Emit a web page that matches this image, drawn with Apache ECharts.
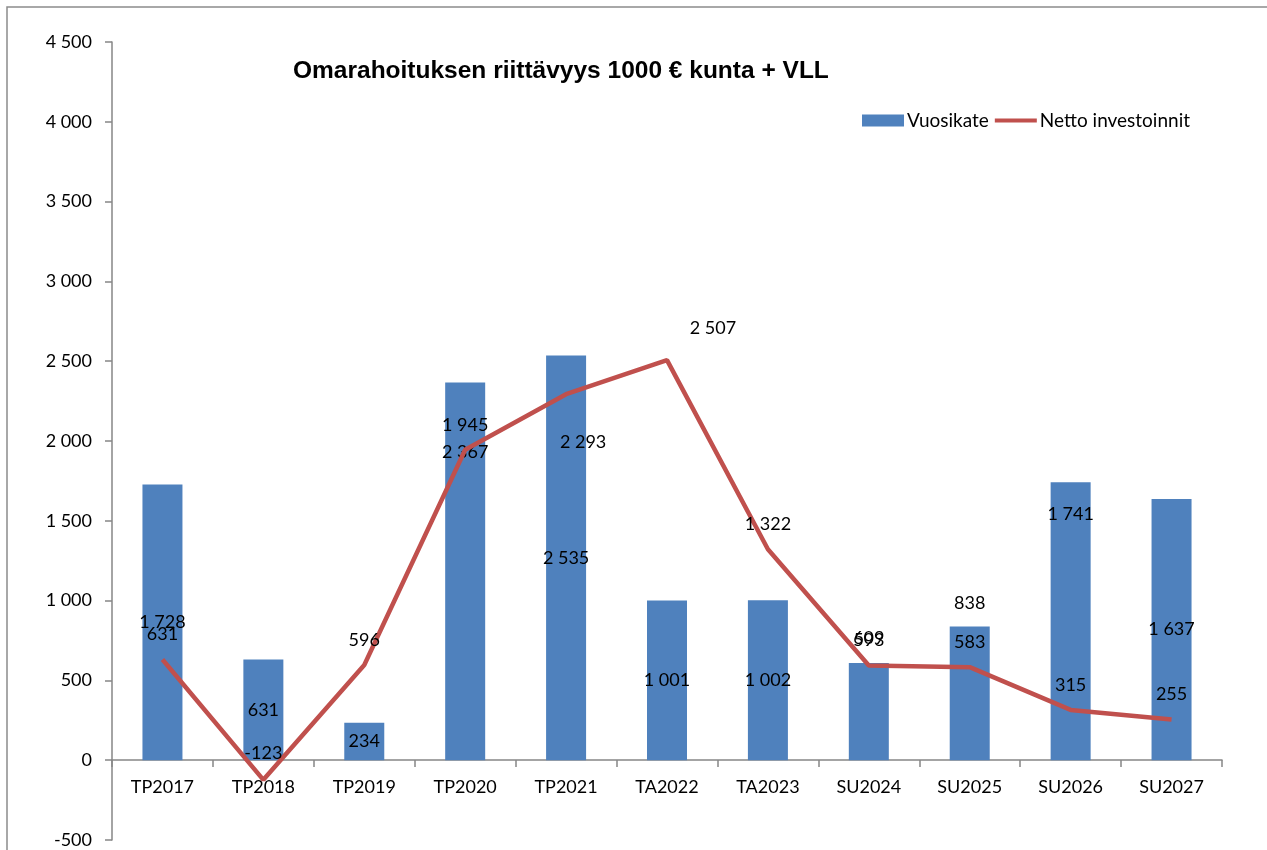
<!DOCTYPE html>
<html>
<head>
<meta charset="utf-8">
<script src="https://cdn.jsdelivr.net/npm/echarts@6/dist/echarts.min.js"></script>
<style>
html,body{margin:0;padding:0;background:#fff;}
#main{width:1267px;height:850px;}
</style>
</head>
<body>
<div id="main"></div>
<script>
// data
var categories = ["TP2017","TP2018","TP2019","TP2020","TP2021","TA2022","TA2023","SU2024","SU2025","SU2026","SU2027"];
var vuosikate = [1728, 631, 234, 2367, 2535, 1001, 1002, 609, 838, 1741, 1637];
var netto = [631, -123, 596, 1945, 2293, 2507, 1322, 593, 583, 315, 255];
var yTicks = [-500, 0, 500, 1000, 1500, 2000, 2500, 3000, 3500, 4000, 4500];

function fmt(v){
    var s = String(Math.abs(v)).replace(/\B(?=(\d{3})+(?!\d))/g, " ");
    return (v < 0 ? "-" : "") + s;
}

// label placement per bar (Excel had them placed by hand)
var barLabelPos = [
    {position:"inside"},{position:"inside"},{position:"inside"},
    {position:"inside", offset:[0,-119]},
    {position:"inside"},{position:"inside"},{position:"inside"},
    {position:"top", distance:16},
    {position:"top", distance:14},
    {position:"insideTop", distance:23},
    {position:"inside"}
];
var lineLabelPos = [
    {},{distance:18},{},{},
    {position:"bottom", offset:[17,23]},
    {offset:[46,-7]},
    {},{},{},{},{}
];

var barData = [];
for (var i = 0; i < vuosikate.length; i++){
    barData.push({value: vuosikate[i], label: barLabelPos[i]});
}
var lineData = [];
for (var j = 0; j < netto.length; j++){
    lineData.push({value: netto[j], label: lineLabelPos[j]});
}

var font = "Lato, 'Open Sans', sans-serif";
var myChart = echarts.init(document.getElementById("main"));
var option = {
    backgroundColor:"#fff",
    animation:false,
    title:{
        text:"Omarahoituksen riittävyys 1000 € kunta + VLL",
        left:288, top:54,
        textStyle:{fontFamily:"'Liberation Sans', Arial, sans-serif", fontWeight:"bold", fontSize:24.5, color:"#000"}
    },
    legend:{
        right:72, top:106,
        itemWidth:42, itemHeight:12, itemGap:6,
        textStyle:{fontFamily:font, fontSize:19, color:"#000", padding:[0,0,0,-2]},
        data:[
            {name:"Vuosikate", icon:"rect"},
            {name:"Netto investoinnit", icon:"path://M0,0 L42,0 L42,4 L0,4 Z"}
        ]
    },
    graphic:[{
        type:"rect", shape:{x:7, y:7, width:1280, height:880},
        style:{fill:"none", stroke:"#8c8c8c", lineWidth:1.5}, silent:true
    }],
    grid:{left:112, right:45, top:42, bottom:10, containLabel:false, outerBoundsMode:"none"},
    xAxis:{
        type:"category",
        data:categories,
        // axis sits on the zero line (500 units above grid bottom = 80px)
        offset:-80,
        axisLine:{onZero:false, lineStyle:{color:"#868686", width:1.5}},
        axisTick:{show:true, length:7, lineStyle:{color:"#868686", width:1.5}},
        axisLabel:{margin:18, fontFamily:font, fontSize:18, color:"#000"}
    },
    yAxis:{
        type:"value",
        min:yTicks[0], max:yTicks[yTicks.length-1], interval:500,
        splitLine:{show:false},
        axisLine:{show:true, lineStyle:{color:"#868686", width:1.5}},
        axisTick:{show:true, length:7, lineStyle:{color:"#868686", width:1.5}},
        axisLabel:{margin:20, fontFamily:font, fontSize:18, color:"#000", formatter:fmt}
    },
    series:[
        {
            name:"Vuosikate",
            type:"bar",
            barWidth:40,
            data:barData,
            itemStyle:{color:"#4F81BD"},
            label:{show:true, fontFamily:font, fontSize:18, color:"#000", formatter:function(p){return fmt(p.value);}}
        },
        {
            name:"Netto investoinnit",
            type:"line",
            data:lineData,
            symbol:"circle",
            symbolSize:0.1,
            showSymbol:true,
            lineStyle:{color:"#C0504D", width:4.5},
            itemStyle:{color:"#C0504D"},
            label:{show:true, position:"top", distance:16, fontFamily:font, fontSize:18, color:"#000", formatter:function(p){return fmt(p.value);}},
            z:3
        }
    ]
};
myChart.setOption(option);
</script>
</body>
</html>
